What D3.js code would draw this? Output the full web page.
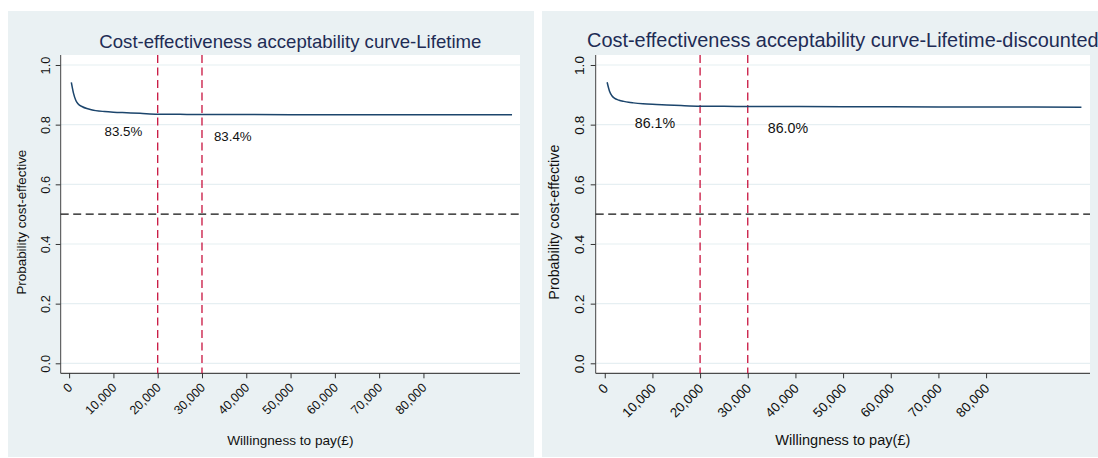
<!DOCTYPE html>
<html lang="en">
  <head>
    <meta charset="UTF-8" />
    <title>CEAC</title>
    <style>
      body { margin: 0; background: #fff; }
      text { font-family: "Liberation Sans", Arial, sans-serif; }
    </style>
  </head>
  <body>
    <svg id="svg" width="1098" height="458"></svg>
    <script src="https://d3js.org/d3.v7.min.js"></script>
    <script>
      // willingness to pay values (GBP) where the curves are sampled
      const wtp = [500, 1000, 1500, 2000, 3000, 4000, 5000, 6000, 8000, 10000, 13000, 16000,
        20000, 25000, 30000, 40000, 50000, 60000, 70000, 80000, 90000, 100000];
      const probLifetime = [0.942, 0.905, 0.882, 0.870, 0.860, 0.854, 0.850, 0.847, 0.844, 0.842, 0.840, 0.838,
        0.835, 0.8345, 0.834, 0.8338, 0.8336, 0.8334, 0.8333, 0.8332, 0.8331, 0.833];
      const probDiscounted = [0.942, 0.912, 0.897, 0.889, 0.882, 0.878, 0.875, 0.873, 0.870, 0.868, 0.866, 0.864,
        0.862, 0.8615, 0.861, 0.8605, 0.860, 0.8597, 0.8594, 0.8591, 0.8588, 0.8585];

      const xTicks = [0, 10000, 20000, 30000, 40000, 50000, 60000, 70000, 80000];
      const yTicks = [0, 0.2, 0.4, 0.6, 0.8, 1.0];
      const thresholds = [20000, 30000];
      const cutoff = 0.5;

      const titles = ["Cost-effectiveness acceptability curve-Lifetime",
        "Cost-effectiveness acceptability curve-Lifetime-discounted"];
      // percentage notes and the data point where each one starts
      const notesLifetime = ["83.5%", "83.4%"];
      const notesDiscounted = ["86.1%", "86.0%"];
      const noteX = [[8000, 32700], [6300, 34200]];
      const noteY = [[0.778, 0.762], [0.805, 0.789]];

      const svg = d3.select("#svg");

      const panels = [
        { bg: [8, 11, 526, 446], plot: [60.7, 520, 55, 373.3], fs: 1, titleY: 48,
          probs: probLifetime, notes: notesLifetime },
        { bg: [542, 11, 556, 446], plot: [595.7, 1090, 55, 373.3], fs: 1.07, titleY: 47,
          probs: probDiscounted, notes: notesDiscounted }
      ];

      panels.forEach((p, i) => {
        const [x0, x1, y0, y1] = p.plot;
        const x = d3.scaleLinear().domain([-1900, 101800]).range([x0, x1]);
        const y = d3.scaleLinear().domain([-0.0335, 1.0335]).range([y1, y0]);
        const g = svg.append("g");

        g.append("rect")
          .attr("x", p.bg[0]).attr("y", p.bg[1])
          .attr("width", p.bg[2]).attr("height", p.bg[3])
          .attr("fill", "#eaf1f3");
        g.append("rect")
          .attr("x", x0).attr("y", y0)
          .attr("width", x1 - x0).attr("height", y1 - y0)
          .attr("fill", "#fff");

        // grid
        g.selectAll("line.grid")
          .data(yTicks)
          .enter()
          .append("line")
          .attr("x1", x0).attr("x2", x1)
          .attr("y1", (d) => y(d)).attr("y2", (d) => y(d))
          .attr("stroke", "#e6eff2")
          .attr("stroke-width", 1.2);

        // title
        g.append("text")
          .attr("x", (x0 + x1) / 2)
          .attr("y", p.titleY)
          .attr("text-anchor", "middle")
          .attr("font-size", 18.6 * p.fs)
          .attr("fill", "#1e2c55")
          .text(titles[i]);

        // y axis
        const ya = g.append("g")
          .attr("transform", `translate(${x0},0)`)
          .call(d3.axisLeft(y).tickValues(yTicks).tickSize(5).tickSizeOuter(0)
            .tickFormat(d3.format(".1f")));
        ya.select(".domain").remove();
        ya.selectAll(".tick line").attr("stroke", "#333");
        ya.selectAll(".tick text")
          .attr("transform", "rotate(-90)")
          .attr("x", 0)
          .attr("y", -15.5 * p.fs)
          .attr("dy", "0.35em")
          .attr("text-anchor", "middle")
          .attr("font-size", 12.8 * p.fs)
          .attr("fill", "#111");
        g.append("line")
          .attr("x1", x0).attr("x2", x0).attr("y1", y0).attr("y2", y1)
          .attr("stroke", "#444");

        // x axis
        const xa = g.append("g")
          .attr("transform", `translate(0,${y1})`)
          .call(d3.axisBottom(x).tickValues(xTicks).tickSize(5).tickSizeOuter(0)
            .tickFormat(d3.format(",")));
        xa.select(".domain").remove();
        xa.selectAll(".tick line").attr("stroke", "#333");
        xa.selectAll(".tick text")
          .attr("x", 0).attr("y", 0).attr("dy", 0)
          .attr("transform", `translate(${3.5 * p.fs},${15 * p.fs}) rotate(-45)`)
          .attr("text-anchor", "end")
          .attr("font-size", 12.5 * p.fs)
          .attr("fill", "#111");
        g.append("line")
          .attr("x1", x0).attr("x2", x1).attr("y1", y1).attr("y2", y1)
          .attr("stroke", "#222");

        // axis titles
        g.append("text")
          .attr("transform", `translate(${x0 - 39 * p.fs},${(y0 + y1) / 2 + 8}) rotate(-90)`)
          .attr("text-anchor", "middle")
          .attr("dy", "0.35em")
          .attr("font-size", 13.4 * p.fs)
          .attr("fill", "#111")
          .text("Probability cost-effective");
        g.append("text")
          .attr("x", (x0 + x1) / 2)
          .attr("y", 445)
          .attr("text-anchor", "middle")
          .attr("font-size", 13.6 * p.fs)
          .attr("fill", "#111")
          .text("Willingness to pay(£)");

        // reference lines
        g.append("line")
          .attr("x1", x0).attr("x2", x1)
          .attr("y1", y(cutoff)).attr("y2", y(cutoff))
          .attr("stroke", "#111")
          .attr("stroke-width", 1.3)
          .attr("stroke-dasharray", "8,4.5");
        g.selectAll("line.wtp")
          .data(thresholds)
          .enter()
          .append("line")
          .attr("x1", (d) => x(d)).attr("x2", (d) => x(d))
          .attr("y1", y0).attr("y2", y1)
          .attr("stroke", "#c8143f")
          .attr("stroke-width", 1.3)
          .attr("stroke-dasharray", "8,4.5");

        // curve
        const line = d3.line()
          .x((d, k) => x(wtp[k]))
          .y((d) => y(d))
          .curve(d3.curveMonotoneX);
        g.append("path")
          .attr("d", line(p.probs))
          .attr("fill", "none")
          .attr("stroke", "#1c456c")
          .attr("stroke-width", 1.5);

        // notes
        g.selectAll("text.note")
          .data(p.notes)
          .enter()
          .append("text")
          .attr("x", (d, k) => x(noteX[i][k]))
          .attr("y", (d, k) => y(noteY[i][k]))
          .attr("dy", "0.35em")
          .attr("font-size", 13.3 * p.fs)
          .attr("fill", "#111")
          .text((d) => d);
      });
    </script>
  </body>
</html>
